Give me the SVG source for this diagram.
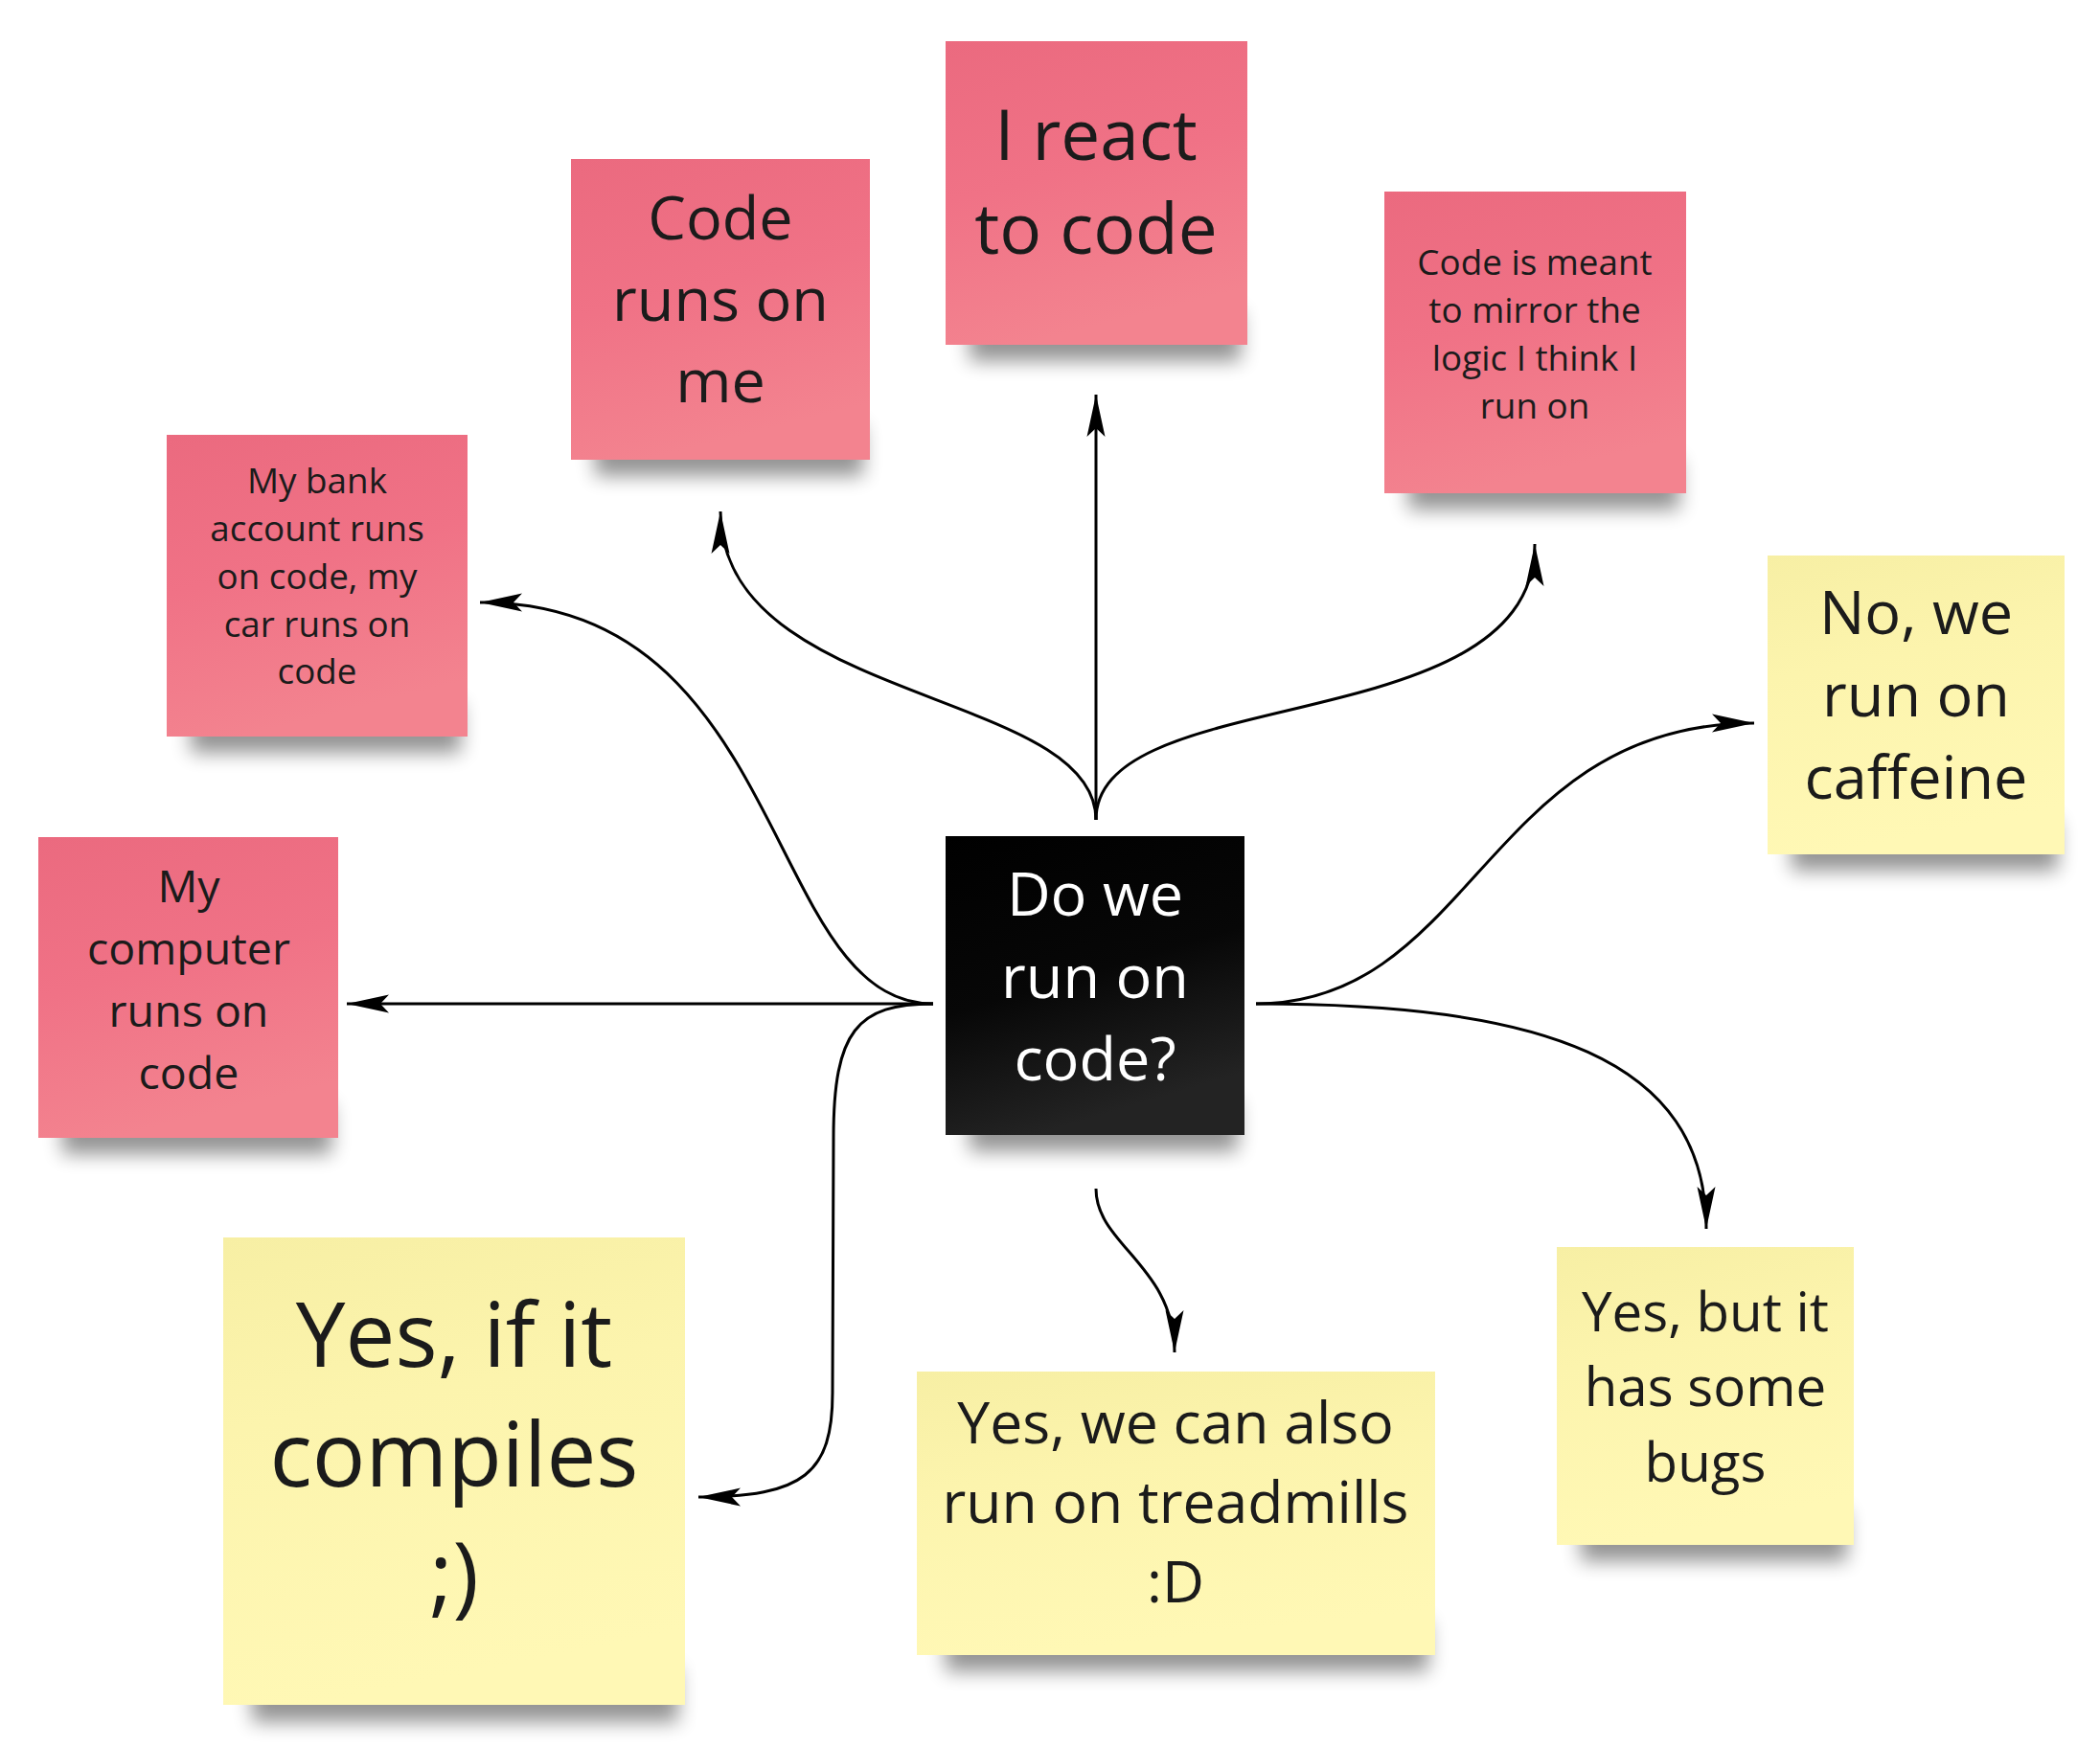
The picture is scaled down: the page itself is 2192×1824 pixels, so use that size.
<svg xmlns="http://www.w3.org/2000/svg" width="2192" height="1824" viewBox="0 0 2192 1824">
<style>
.t{font-family:"Open Sans","Noto Sans","Liberation Sans",sans-serif;fill:#1b1b1b;text-anchor:middle}
.w{fill:#ffffff}
.shadow{fill:#000;opacity:0.42;filter:url(#blur)}
.pink{fill:url(#gPink)}
.yellow{fill:url(#gYellow)}
.conn{fill:none;stroke:#000;stroke-width:3;marker-end:url(#ah)}
</style>
<defs>
<filter id="blur" x="-20%" y="-50%" width="140%" height="200%"><feGaussianBlur stdDeviation="10"/></filter>
<linearGradient id="gPink" x1="0" y1="0" x2="0.25" y2="1">
<stop offset="0" stop-color="#eb6a7f"/><stop offset="0.5" stop-color="#f07286"/><stop offset="1" stop-color="#f3838f"/>
</linearGradient>
<linearGradient id="gYellow" x1="0" y1="0" x2="0.2" y2="1">
<stop offset="0" stop-color="#f7efa4"/><stop offset="0.4" stop-color="#fcf4ad"/><stop offset="1" stop-color="#fff8b5"/>
</linearGradient>
<linearGradient id="gBlack" x1="0" y1="0" x2="0.3" y2="1">
<stop offset="0" stop-color="#000"/><stop offset="0.55" stop-color="#070707"/><stop offset="1" stop-color="#232323"/>
</linearGradient>
<marker id="ah" viewBox="-46 -11 48 22" refX="0" refY="0" markerWidth="48" markerHeight="22" markerUnits="userSpaceOnUse" orient="auto">
<path d="M0,0 L-44,-9.5 L-35,0 L-44,9.5 Z" fill="#000"/>
</marker>
</defs>
<rect width="2192" height="1824" fill="#ffffff"/>

<g id="connectors">
<path class="conn" d="M1144,856 L1144,412"/>
<path class="conn" d="M1144,856 C1144,720 752,735 752,534"/>
<path class="conn" d="M1144,856 C1144,710 1602,775 1602,568"/>
<path class="conn" d="M974,1048 C797,1048 825,629 501,629"/>
<path class="conn" d="M974,1048 L362,1048"/>
<path class="conn" d="M974,1048 C895,1048 870,1076 870,1188 L869,1454 C869,1538 839,1563 729,1563"/>
<path class="conn" d="M1311,1048 C1538,1048 1552,755 1831,755"/>
<path class="conn" d="M1311,1048 C1608,1048 1781,1104 1781,1283"/>
<path class="conn" d="M1144,1241 C1144,1300 1226,1321 1226,1412"/>
</g>

<g id="n-center">
<rect class="shadow" x="1012" y="1150" width="280" height="52"/>
<rect x="987" y="873" width="312" height="312" fill="url(#gBlack)"/>
<text class="t w" font-size="63"><tspan x="1143" y="956">Do we</tspan><tspan x="1143" y="1042">run on</tspan><tspan x="1143" y="1128">code?</tspan></text>
</g>

<g id="n-code-runs">
<rect class="shadow" x="621" y="445" width="280" height="52"/>
<rect class="pink" x="596" y="166" width="312" height="314"/>
<text class="t" font-size="63"><tspan x="752" y="250">Code</tspan><tspan x="752" y="335">runs on</tspan><tspan x="752" y="420">me</tspan></text>
</g>

<g id="n-react">
<rect class="shadow" x="1012" y="325" width="283" height="52"/>
<rect class="pink" x="987" y="43" width="315" height="317"/>
<text class="t" font-size="73"><tspan x="1144" y="167">I react</tspan><tspan x="1144" y="265">to code</tspan></text>
</g>

<g id="n-mirror">
<rect class="shadow" x="1470" y="480" width="283" height="52"/>
<rect class="pink" x="1445" y="200" width="315" height="315"/>
<text class="t" font-size="36.8"><tspan x="1602" y="287">Code is meant</tspan><tspan x="1602" y="337">to mirror the</tspan><tspan x="1602" y="387">logic I think I</tspan><tspan x="1602" y="437">run on</tspan></text>
</g>

<g id="n-bank">
<rect class="shadow" x="199" y="734" width="282" height="52"/>
<rect class="pink" x="174" y="454" width="314" height="315"/>
<text class="t" font-size="36.8"><tspan x="331" y="515">My bank</tspan><tspan x="331" y="565">account runs</tspan><tspan x="331" y="615">on code, my</tspan><tspan x="331" y="665">car runs on</tspan><tspan x="331" y="714">code</tspan></text>
</g>

<g id="n-computer">
<rect class="shadow" x="65" y="1153" width="281" height="52"/>
<rect class="pink" x="40" y="874" width="313" height="314"/>
<text class="t" font-size="46.5"><tspan x="197" y="942">My</tspan><tspan x="197" y="1007">computer</tspan><tspan x="197" y="1072">runs on</tspan><tspan x="197" y="1137">code</tspan></text>
</g>

<g id="n-caffeine">
<rect class="shadow" x="1870" y="857" width="278" height="52"/>
<rect class="yellow" x="1845" y="580" width="310" height="312"/>
<text class="t" font-size="63"><tspan x="2000" y="662">No, we</tspan><tspan x="2000" y="748">run on</tspan><tspan x="2000" y="834">caffeine</tspan></text>
</g>

<g id="n-compiles">
<rect class="shadow" x="263" y="1742" width="445" height="56"/>
<rect class="yellow" x="233" y="1292" width="482" height="488"/>
<text class="t" font-size="92.5"><tspan x="474" y="1427">Yes, if it</tspan><tspan x="474" y="1552">compiles</tspan><tspan x="474" y="1677">;)</tspan></text>
</g>

<g id="n-treadmills">
<rect class="shadow" x="987" y="1693" width="504" height="52"/>
<rect class="yellow" x="957" y="1432" width="541" height="296"/>
<text class="t" font-size="60.7"><tspan x="1227" y="1507">Yes, we can also</tspan><tspan x="1227" y="1590">run on treadmills</tspan><tspan x="1227" y="1673">:D</tspan></text>
</g>

<g id="n-bugs">
<rect class="shadow" x="1650" y="1578" width="278" height="52"/>
<rect class="yellow" x="1625" y="1302" width="310" height="311"/>
<text class="t" font-size="56.5"><tspan x="1780" y="1390">Yes, but it</tspan><tspan x="1780" y="1468">has some</tspan><tspan x="1780" y="1547">bugs</tspan></text>
</g>
</svg>
